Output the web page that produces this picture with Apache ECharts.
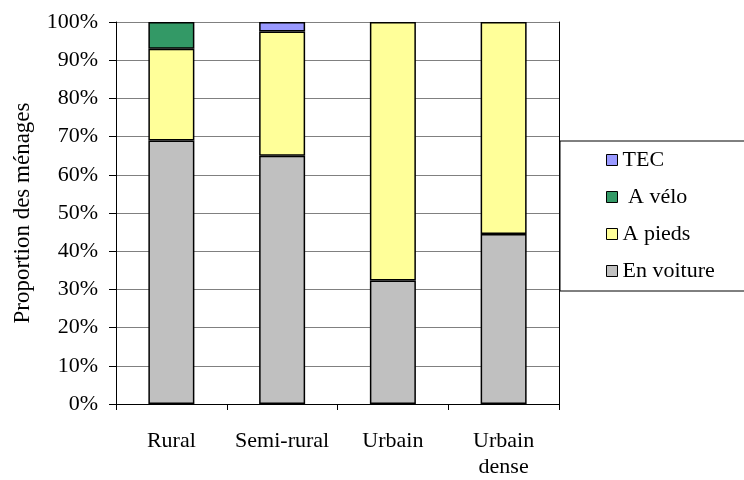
<!DOCTYPE html>
<html>
<head>
<meta charset="utf-8">
<script src="https://cdn.jsdelivr.net/npm/echarts@6/dist/echarts.min.js"></script>
<style>
  html, body { margin: 0; padding: 0; background: #fff; }
  #chart { width: 744px; height: 480px; }
</style>
</head>
<body>
<div id="chart"></div>
<script>
// categories and shares (%) per mode
var categories = ['Rural', 'Semi-rural', 'Urbain', 'Urbain\ndense'];
var enVoiture = [69, 65, 32.3, 44.5];
var aPieds = [24, 32.5, 67.7, 55.5];
var aVelo = [7, 0, 0, 0];
var tec = [0, 2.5, 0, 0];
var legendOrder = ['TEC', ' A vélo', 'A pieds', 'En voiture'];

var font = 'Liberation Serif';
var chart = echarts.init(document.getElementById('chart'));

// une série empilée (les zéros ne sont pas dessinés)
function serie(name, data, color) {
  return {
    name: name,
    type: 'bar',
    stack: 'total',
    data: data.map(function (v) { return v === 0 ? '-' : v; }),
    barWidth: 46,
    itemStyle: { color: color, borderColor: '#000', borderWidth: 1.5 }
  };
}

chart.setOption({
  backgroundColor: '#fff',
  animation: false,
  textStyle: { fontFamily: font, color: '#000' },
  grid: { left: 116, right: 185, top: 22, bottom: 76 },
  legend: {
    orient: 'vertical',
    left: 560,
    top: 141,
    data: legendOrder,
    icon: 'rect',
    itemWidth: 11,
    itemHeight: 11,
    itemGap: 15,
    padding: [8, 200, 9, 46],
    borderColor: '#000',
    borderWidth: 1,
    itemStyle: { borderColor: '#000', borderWidth: 1 },
    textStyle: { fontFamily: font, fontSize: 22, color: '#000', lineHeight: 20 }
  },
  xAxis: {
    type: 'category',
    data: categories,
    axisLine: { lineStyle: { color: '#000', width: 1 } },
    axisTick: { show: true, length: 6, lineStyle: { color: '#000' } },
    axisLabel: { fontFamily: font, fontSize: 22, color: '#000', margin: 24, lineHeight: 26, interval: 0 }
  },
  yAxis: [{
    type: 'value',
    min: 0,
    max: 100,
    interval: 10,
    name: 'Proportion des ménages',
    nameLocation: 'middle',
    nameGap: 82,
    nameTextStyle: { fontFamily: font, fontSize: 23, color: '#000' },
    axisLine: { show: true, lineStyle: { color: '#000' } },
    axisTick: { show: true, length: 7, lineStyle: { color: '#000' } },
    axisLabel: { fontFamily: font, fontSize: 22, color: '#000', margin: 18, formatter: '{value}%' },
    splitLine: { show: true, lineStyle: { color: '#808080', width: 1 } }
  }, {
    type: 'value',
    min: 0,
    max: 100,
    interval: 10,
    position: 'right',
    axisLine: { show: true, lineStyle: { color: '#000' } },
    axisTick: { show: false },
    axisLabel: { show: false },
    splitLine: { show: false }
  }],
  series: [
    serie('En voiture', enVoiture, '#C0C0C0'),
    serie('A pieds', aPieds, '#FFFF99'),
    serie(' A vélo', aVelo, '#339966'),
    serie('TEC', tec, '#9999FF')
  ]
});
</script>
</body>
</html>
